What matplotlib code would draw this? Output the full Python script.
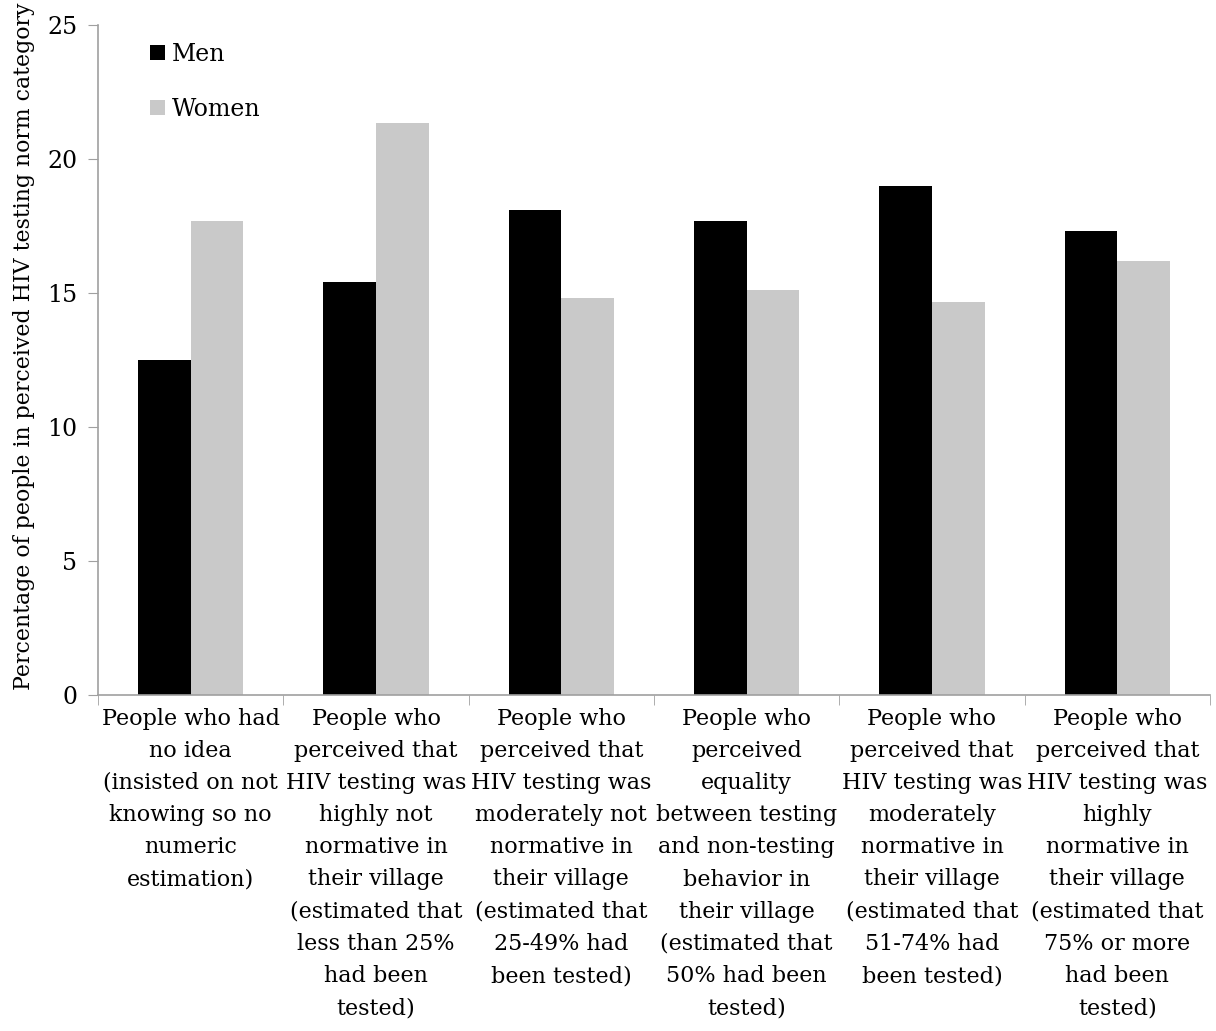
import numpy as np
import matplotlib.pyplot as plt

categories = [
    "People who had\nno idea\n(insisted on not\nknowing so no\nnumeric\nestimation)",
    "People who\nperceived that\nHIV testing was\nhighly not\nnormative in\ntheir village\n(estimated that\nless than 25%\nhad been\ntested)",
    "People who\nperceived that\nHIV testing was\nmoderately not\nnormative in\ntheir village\n(estimated that\n25-49% had\nbeen tested)",
    "People who\nperceived\nequality\nbetween testing\nand non-testing\nbehavior in\ntheir village\n(estimated that\n50% had been\ntested)",
    "People who\nperceived that\nHIV testing was\nmoderately\nnormative in\ntheir village\n(estimated that\n51-74% had\nbeen tested)",
    "People who\nperceived that\nHIV testing was\nhighly\nnormative in\ntheir village\n(estimated that\n75% or more\nhad been\ntested)",
]
men = [12.5, 15.4, 18.1, 17.7, 19.0, 17.3]
women = [17.7, 21.35, 14.8, 15.1, 14.65, 16.2]
yticks = [0, 5, 10, 15, 20, 25]

plt.rcParams['font.family'] = ['DejaVu Serif']

fig = plt.figure(figsize=(12.16, 10.31), dpi=100)
ax = fig.add_axes([98 / 1216, 1 - 695 / 1031, (1210 - 98) / 1216, (695 - 25) / 1031])

x = np.arange(len(categories))
w = 0.284
ax.bar(x - w / 2, men, w, color="black", label="Men")
ax.bar(x + w / 2, women, w, color="#c9c9c9", label="Women")

ax.set_xlim(-0.5, len(categories) - 0.5)
ax.set_ylim(0, 25)
ax.set_yticks(yticks)
ax.set_xticks(x)
ax.set_xticklabels(categories, fontsize=16, linespacing=1.6)
ax.set_xticks(np.arange(len(categories) + 1) - 0.5, minor=True)
ax.tick_params(axis="x", which="major", length=0, pad=9)
ax.tick_params(axis="x", which="minor", length=7, color="#a0a0a0")
ax.tick_params(axis="y", length=7, color="#a0a0a0", labelsize=17, pad=8)

for s in ["top", "right"]:
    ax.spines[s].set_visible(False)
for s in ["left", "bottom"]:
    ax.spines[s].set_color("#a0a0a0")
    ax.spines[s].set_linewidth(1.2)

ax.set_ylabel("Percentage of people in perceived HIV testing norm category", fontsize=15.8)
ax.yaxis.set_label_coords(-0.057, 0.52)

ax.legend(loc="upper left", bbox_to_anchor=(0.028, 1.005), frameon=False, fontsize=17,
          handlelength=0.6, handleheight=0.6, handletextpad=0.3, labelspacing=1.35)

fig.savefig("out.png", dpi=100)
